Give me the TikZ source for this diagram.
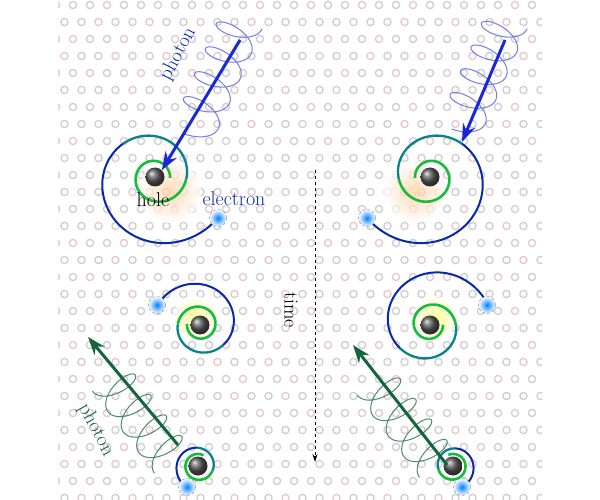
\documentclass[tikz,border=0pt]{standalone}
\usepackage{fontspec}
\usetikzlibrary{arrows.meta}
\definecolor{ringA}{RGB}{205,205,210}
\definecolor{ringB}{RGB}{228,200,205}
\definecolor{spg}{RGB}{20,190,60}
\definecolor{spt}{RGB}{10,130,140}
\definecolor{spb}{RGB}{10,40,170}
\definecolor{phb}{RGB}{25,40,215}
\definecolor{phg}{RGB}{20,100,60}
\newcommand\mySpiral[7]{% cx cy phi0 dir r0 tmax rEnd
  \pgfmathsetmacro\tA{0.52*#6}\pgfmathsetmacro\tB{0.72*#6}
  \pgfmathsetmacro\kk{(#7-#5)}
  \draw[spg,line width=2.6pt] plot[domain=0:\tA,samples=60,smooth] ({#1+(#5+\kk*(\x/#6)^2)*cos(#3+#4*\x)},{#2+(#5+\kk*(\x/#6)^2)*sin(#3+#4*\x)});
  \draw[spt,line width=2.3pt] plot[domain=\tA:\tB,samples=40,smooth] ({#1+(#5+\kk*(\x/#6)^2)*cos(#3+#4*\x)},{#2+(#5+\kk*(\x/#6)^2)*sin(#3+#4*\x)});
  \draw[spb,line width=2pt] plot[domain=\tB:#6,samples=40,smooth] ({#1+(#5+\kk*(\x/#6)^2)*cos(#3+#4*\x)},{#2+(#5+\kk*(\x/#6)^2)*sin(#3+#4*\x)});
}
\newcommand\myHelix[8]{% x0 y0 dx dy ux uy color loops
  \pgfmathsetmacro\tM{#8*360}
  \draw[#7,line width=1pt] plot[domain=0:\tM,samples=240,smooth] ({#1+#3*(\x/\tM)+22*#6*cos(\x)+11*#5*sin(\x)},{#2+#4*(\x/\tM)-22*#5*cos(\x)+11*#6*sin(\x)});
}
\tikzset{
  hole/.style={circle,minimum size=19pt,inner sep=0pt,ball color=gray!70!black,draw=none},
  elec/.style={circle,minimum size=17pt,inner sep=0pt,draw=gray,densely dashed,thin,inner color=blue!50!cyan,outer color=white},
  glow/.style={circle,minimum size=62pt,inner sep=0pt,inner color=orange!40,outer color=white,opacity=0.7},
  lbl/.style={font=\fontsize{20}{20}\selectfont},
}
\begin{document}
\begin{tikzpicture}[x=1pt,y=-1pt]
\useasboundingbox (0,0) rectangle (600,500);
\fill[white] (0,0) rectangle (600,500);
\begin{scope}
\clip (58,0) rectangle (542,500);
\foreach \j in {0,...,29}{
  \foreach \i in {0,...,29}{
    \pgfmathsetmacro\xx{56+\i*17+mod(\j,2)*8.5}
    \pgfmathsetmacro\yy{5+\j*17}
    \pgfmathtruncatemacro\c{mod(\i+\j,3)}
    \ifnum\c=0 \draw[ringB,line width=1.3pt] (\xx,\yy) circle (3.6);
    \else \draw[ringA,line width=1.3pt] (\xx,\yy) circle (3.6);\fi
  }}
\end{scope}
% glows
\node[glow] (g1) at (170,192) {};
\node[glow] (g2) at (415,192) {};
\node[glow,minimum size=44pt,inner color=yellow!60] (g3) at (195,318) {};
\node[glow,minimum size=44pt,inner color=yellow!60] (g4) at (435,318) {};
% spirals
\mySpiral{155}{177}{723}{-1}{15}{690}{75}
\mySpiral{430}{177}{-543}{1}{15}{690}{75}
\mySpiral{200}{325}{905}{-1}{13}{700}{47}
\mySpiral{430}{325}{-722}{1}{13}{700}{61}
\mySpiral{198}{466}{658}{-1}{12}{540}{24}
\mySpiral{453}{466}{-473}{1}{12}{540}{23}
% holes and electrons
\node[hole] (h1) at (155,177) {};
\node[elec] (e1) at (218,218) {};
\node[hole] (h2) at (430,177) {};
\node[elec] (e2) at (367,218) {};
\node[hole] (h3) at (200,325) {};
\node[elec] (e3) at (157,305) {};
\node[hole] (h4) at (430,325) {};
\node[elec] (e4) at (487,305) {};
\node[hole] (h5) at (198,466) {};
\node[elec] (e5) at (187,487) {};
\node[hole] (h6) at (453,466) {};
\node[elec] (e6) at (462,487) {};
% helices
\myHelix{242}{20}{-47}{107}{-0.394}{0.919}{phb!60!white}{4.3}
\myHelix{507}{20}{-45}{102}{-0.394}{0.919}{phb!60!white}{4.3}
\myHelix{172}{460}{-62}{-82}{-0.603}{-0.797}{phg!75!white}{4}
\myHelix{437}{464}{-62}{-82}{-0.603}{-0.797}{phg!75!white}{4}
% arrows
\coordinate (p1s) at (240,40); \coordinate (p2s) at (505,40);
\coordinate (p2e) at (462,142);
\coordinate (p3s) at (178,445); \coordinate (p3e) at (88,337);
\coordinate (p4s) at (447,465); \coordinate (p4e) at (353,345);
\draw[phb,line width=3pt,-{Stealth[length=18pt,width=13pt]}] (p1s) -- (h1.north east);
\draw[phb,line width=3pt,-{Stealth[length=18pt,width=13pt]}] (p2s) -- (p2e);
\draw[phg,line width=3pt,-{Stealth[length=18pt,width=13pt]}] (p3s) -- (p3e);
\draw[phg,line width=3pt,-{Stealth[length=18pt,width=13pt]}] (p4s) -- (p4e);
% labels
\node[lbl,text=spb,rotate=62] (l1) at (178,54) {photon};
\node[lbl,text=phg,rotate=-62] (l2) at (96,430) {photon};
\node[lbl] (l3) at (153,200) {hole};
\node[lbl,text=spb] (l4) at (234,199) {electron};
\coordinate (ts) at (315,170); \coordinate (te) at (315,462);
\draw[dashed,line width=0.8pt,-{Stealth[length=8pt,width=5pt]}] (ts) -- (te);
\node[lbl,rotate=-90] (l5) at (291,310) {time};
\end{tikzpicture}
\end{document}
